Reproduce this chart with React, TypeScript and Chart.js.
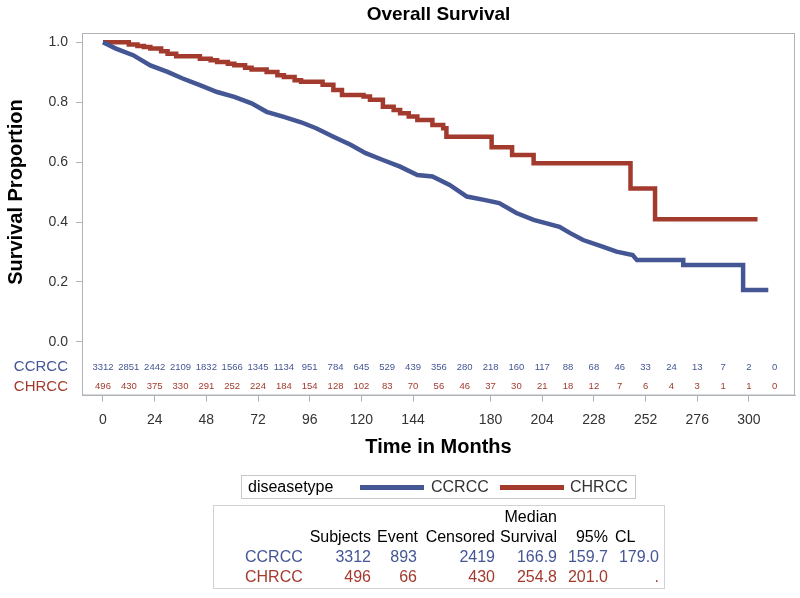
import React, { useEffect, useRef } from 'react';
import { Chart, registerables } from 'chart.js';

Chart.register(...registerables);

const FONT = '"Liberation Sans", Arial, Helvetica, sans-serif';
const BLUE = '#445694';
const RED = '#A23A2E';
const AXIS_GREY = '#AEB3B8';
const TEXT = '#333333';

// ---------- data ----------
const groups = ['CCRCC', 'CHRCC'];
const groupColors = [BLUE, RED];

const xTicks = [0, 24, 48, 72, 96, 120, 144, 180, 204, 228, 252, 276, 300];
const yTicks = [0, 0.2, 0.4, 0.6, 0.8, 1.0];

const atRiskTimes = [0, 12, 24, 36, 48, 60, 72, 84, 96, 108, 120, 132, 144, 156, 168, 180, 192, 204, 216, 228, 240, 252, 264, 276, 288, 300, 312];
const atRiskCCRCC = [3312, 2851, 2442, 2109, 1832, 1566, 1345, 1134, 951, 784, 645, 529, 439, 356, 280, 218, 160, 117, 88, 68, 46, 33, 24, 13, 7, 2, 0];
const atRiskCHRCC = [496, 430, 375, 330, 291, 252, 224, 184, 154, 128, 102, 83, 70, 56, 46, 37, 30, 21, 18, 12, 7, 6, 4, 3, 1, 1, 0];

// CCRCC survival (many small steps drawn as a line)
const ccrccTimes = [0, 6, 14, 22, 30, 37, 45, 53, 61, 69, 76, 84, 92, 99, 107, 115, 122, 130, 138, 146, 153, 161, 169, 177, 184, 192, 200, 212, 217, 223, 232, 238.5, 246, 248, 269.5, 269.5, 297.3, 297.3, 309];
const ccrccSurv = [1.0, 0.979, 0.957, 0.923, 0.901, 0.879, 0.857, 0.834, 0.818, 0.796, 0.768, 0.751, 0.733, 0.713, 0.685, 0.658, 0.63, 0.607, 0.585, 0.557, 0.552, 0.524, 0.485, 0.474, 0.463, 0.43, 0.407, 0.384, 0.363, 0.34, 0.318, 0.301, 0.29, 0.273, 0.273, 0.257, 0.257, 0.173, 0.173];

// CHRCC survival (step function: time of drop, survival after drop)
const chrccTimes = [0, 12, 16, 19, 22, 27, 30, 34, 45, 50, 53, 58, 61, 66, 69, 76, 81, 84, 89, 92, 102, 107, 111, 121, 124, 130, 135, 138, 142, 146, 153, 158, 159.5, 180.5, 190, 200, 245, 256.4, 304];
const chrccSurv = [1.0, 0.993, 0.988, 0.984, 0.979, 0.97, 0.962, 0.953, 0.945, 0.94, 0.934, 0.928, 0.923, 0.915, 0.909, 0.901, 0.89, 0.884, 0.873, 0.868, 0.858, 0.841, 0.824, 0.819, 0.808, 0.785, 0.774, 0.763, 0.752, 0.741, 0.724, 0.713, 0.685, 0.65, 0.624, 0.596, 0.512, 0.409, 0.409];

// summary table
const summarySubjects = ['3312', '496'];
const summaryEvent = ['893', '66'];
const summaryCensored = ['2419', '430'];
const summaryMedian = ['166.9', '254.8'];
const summaryLower = ['159.7', '201.0'];
const summaryUpper = ['179.0', '.'];

const X_MIN = -9.75;
const X_MAX = 321.4;
const Y_MIN = -0.179;
const Y_MAX = 1.031;

const overlayPlugin = {
  id: 'kmOverlay',
  afterDraw(chart: any) {
    const { ctx, chartArea: a, scales } = chart;
    const xs = scales.x;
    const ys = scales.y;
    ctx.save();
    // full frame
    ctx.strokeStyle = AXIS_GREY;
    ctx.lineWidth = 1;
    ctx.strokeRect(a.left + 0.5, a.top + 0.5, a.right - a.left - 1, a.bottom - a.top - 1);

    // at-risk numbers
    const rows = [atRiskCCRCC, atRiskCHRCC];
    const rowVals = [-0.084, -0.149];
    ctx.textBaseline = 'middle';
    rows.forEach((row, r) => {
      const py = ys.getPixelForValue(rowVals[r]);
      ctx.fillStyle = groupColors[r];
      ctx.font = `9.5px ${FONT}`;
      ctx.textAlign = 'center';
      row.forEach((n, i) => {
        ctx.fillText(String(n), xs.getPixelForValue(atRiskTimes[i]), py);
      });
      ctx.font = `15px ${FONT}`;
      ctx.textAlign = 'right';
      ctx.fillText(groups[r], 68, py);
    });

    // chart title
    const cx = (a.left + a.right) / 2;
    ctx.fillStyle = '#000';
    ctx.textAlign = 'center';
    ctx.font = `bold 19px ${FONT}`;
    ctx.fillText('Overall Survival', cx, 15);

    // x title
    ctx.font = `bold 20px ${FONT}`;
    ctx.fillText('Time in Months', cx, 447);

    // y title
    const ty = (ys.getPixelForValue(0) + ys.getPixelForValue(1)) / 2;
    ctx.translate(16, ty);
    ctx.rotate(-Math.PI / 2);
    ctx.fillText('Survival Proportion', 0, 0);
    ctx.restore();
  },
};

const Txt = ({ x, y, children, color = '#000', align = 'left', size = 16 }: any) => {
  const style: any = {
    position: 'absolute',
    top: y - 10,
    lineHeight: '20px',
    fontSize: size,
    color,
    whiteSpace: 'nowrap',
  };
  if (align === 'right') style.right = 800 - x;
  else style.left = x;
  return <div style={style}>{children}</div>;
};

export default function App() {
  const ref = useRef<HTMLCanvasElement | null>(null);

  useEffect(() => {
    if (!ref.current) return;
    const chart = new Chart(ref.current, {
      type: 'line',
      data: {
        datasets: [
          {
            label: groups[0],
            data: ccrccTimes.map((t, i) => ({ x: t, y: ccrccSurv[i] })),
            borderColor: BLUE,
            borderWidth: 4.5,
            pointRadius: 0,
            fill: false,
            stepped: false,
            tension: 0,
          },
          {
            label: groups[1],
            data: chrccTimes.map((t, i) => ({ x: t, y: chrccSurv[i] })),
            borderColor: RED,
            borderWidth: 4.5,
            pointRadius: 0,
            fill: false,
            stepped: 'before',
          },
        ],
      },
      options: {
        animation: false,
        responsive: false,
        devicePixelRatio: 1,
        layout: { padding: { top: 33, right: 5, bottom: 172.5, left: 0 } },
        plugins: {
          legend: { display: false },
          title: { display: false },
          tooltip: { enabled: false },
        },
        scales: {
          x: {
            type: 'linear',
            min: X_MIN,
            max: X_MAX,
            afterBuildTicks: (s: any) => {
              s.ticks = xTicks.map((v) => ({ value: v }));
            },
            afterFit: (s: any) => {
              s.height = 30;
            },
            grid: { drawOnChartArea: false, drawTicks: true, tickLength: 6, color: AXIS_GREY },
            border: { display: true, color: AXIS_GREY },
            ticks: {
              font: { family: FONT, size: 14 },
              color: TEXT,
              padding: 10,
              maxRotation: 0,
              autoSkip: false,
              callback: (v: any) => String(v),
            },
          },
          y: {
            type: 'linear',
            min: Y_MIN,
            max: Y_MAX,
            afterBuildTicks: (s: any) => {
              s.ticks = yTicks.map((v) => ({ value: v }));
            },
            afterFit: (s: any) => {
              s.width = 82;
            },
            grid: { drawOnChartArea: false, drawTicks: true, tickLength: 6, color: AXIS_GREY },
            border: { display: true, color: AXIS_GREY },
            ticks: {
              font: { family: FONT, size: 14 },
              color: TEXT,
              padding: 8,
              callback: (v: any) => Number(v).toFixed(1),
            },
          },
        },
      },
      plugins: [overlayPlugin],
    } as any);
    return () => chart.destroy();
  }, []);

  const colRights = [371, 417, 495, 557, 608, 659];
  const rowsY = [557, 577];
  const cols = [summarySubjects, summaryEvent, summaryCensored, summaryMedian, summaryLower, summaryUpper];

  return (
    <div style={{ position: 'absolute', left: 0, top: 0, width: 800, height: 598, fontFamily: FONT, background: '#fff' }}>
      <canvas ref={ref} width={800} height={598} style={{ display: 'block', width: 800, height: 598 }} />
      {/* legend */}
      <div style={{ position: 'absolute', left: 241, top: 475, width: 393, height: 22, border: '1px solid #C4C8CC' }} />
      <Txt x={248} y={487}>diseasetype</Txt>
      <div style={{ position: 'absolute', left: 360, top: 485, width: 64, height: 5, background: BLUE }} />
      <Txt x={431} y={487} color={TEXT}>{groups[0]}</Txt>
      <div style={{ position: 'absolute', left: 500, top: 485, width: 64, height: 5, background: RED }} />
      <Txt x={570} y={487} color={TEXT}>{groups[1]}</Txt>
      {/* summary table */}
      <div style={{ position: 'absolute', left: 213, top: 505, width: 450, height: 82, border: '1px solid #D0D3D6' }} />
      <Txt x={557} y={517} align="right">Median</Txt>
      <Txt x={371} y={537} align="right">Subjects</Txt>
      <Txt x={418} y={537} align="right">Event</Txt>
      <Txt x={495} y={537} align="right">Censored</Txt>
      <Txt x={557} y={537} align="right">Survival</Txt>
      <Txt x={608} y={537} align="right">95%</Txt>
      <Txt x={615} y={537}>CL</Txt>
      {groups.map((g, r) => (
        <React.Fragment key={g}>
          <Txt x={245} y={rowsY[r]} color={groupColors[r]}>{g}</Txt>
          {cols.map((c, ci) => (
            <Txt key={ci} x={colRights[ci]} y={rowsY[r]} align="right" color={groupColors[r]}>{c[r]}</Txt>
          ))}
        </React.Fragment>
      ))}
    </div>
  );
}
